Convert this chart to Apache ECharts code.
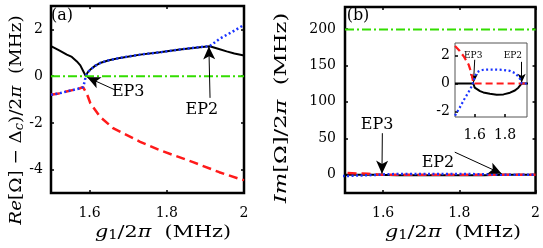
<!DOCTYPE html>
<html>
<head>
<meta charset="utf-8">
<script src="https://cdn.jsdelivr.net/npm/echarts@6/dist/echarts.min.js"></script>
<style>html,body{margin:0;padding:0;background:#fff}#c{width:543px;height:248px}</style>
</head>
<body>
<div id="c"></div>
<script>
// ---------- data (panel a: real parts) ----------
const reBlackX = [1.5, 1.52, 1.541, 1.554, 1.567, 1.576, 1.584, 1.59, 1.595, 1.602, 1.615, 1.627, 1.65, 1.679, 1.731, 1.782, 1.834, 1.886, 1.911, 1.935, 1.955, 1.975, 2.0];
const reBlack  = [1.28, 1.11, 0.92, 0.82, 0.63, 0.46, 0.2, 0.0, 0.16, 0.28, 0.45, 0.56, 0.68, 0.78, 0.92, 1.02, 1.14, 1.24, 1.28, 1.16, 1.06, 0.97, 0.88];
const reBlueX  = [1.5, 1.52, 1.54, 1.56, 1.575, 1.583, 1.587, 1.59, 1.595, 1.602, 1.615, 1.627, 1.65, 1.679, 1.731, 1.782, 1.834, 1.886, 1.911, 1.937, 1.97, 2.0];
const reBlue   = [-0.8, -0.74, -0.66, -0.58, -0.52, -0.47, -0.25, 0.0, 0.16, 0.28, 0.45, 0.56, 0.68, 0.78, 0.92, 1.02, 1.14, 1.24, 1.28, 1.6, 1.9, 2.19];
const reRedX   = [1.5, 1.52, 1.54, 1.56, 1.575, 1.583, 1.593, 1.602, 1.627, 1.662, 1.731, 1.782, 1.868, 1.936, 1.987, 2.0];
const reRed    = [-0.8, -0.74, -0.66, -0.58, -0.52, -0.47, -0.76, -1.16, -1.74, -2.24, -2.81, -3.17, -3.68, -4.11, -4.39, -4.45];
const reGreenX = [1.5, 2.0];
const reGreen  = [0, 0];

// ---------- data (panel b + inset: imaginary parts) ----------
const imX     = [1.47, 1.5, 1.53, 1.56, 1.575, 1.585, 1.591, 1.6, 1.613, 1.635, 1.657, 1.7, 1.745, 1.79, 1.833, 1.865, 1.888, 1.9, 1.91, 1.945, 2.0];
const imBlack = [0, 0, 0, 0, 0, 0, 0, -0.3, -0.42, -0.55, -0.64, -0.74, -0.8, -0.78, -0.66, -0.5, -0.3, -0.17, 0, 0, 0];
const imRed   = [2.69, 2.35, 1.9, 1.35, 0.85, 0.4, 0, 0, 0, 0, 0, 0, 0, 0, 0, 0, 0, 0, 0, 0, 0];
const imBlue  = [-2.3, -1.75, -1.15, -0.6, -0.3, -0.1, 0, 0.45, 0.79, 0.92, 0.98, 1.0, 1.0, 0.97, 0.9, 0.75, 0.5, 0.3, 0, 0, 0];
const imGreenX = [1.5, 2.0];
const imGreen  = [199, 199];

// ---------- ticks ----------
const xTicks = [1.6, 1.8, 2];
const yTicksA = [-4, -2, 0, 2];
const yTicksB = [0, 50, 100, 150, 200];
const insetXTicks = [1.6, 1.8];
const insetYTicks = [-2, 0, 2];

// ---------- annotations (data coords) ----------
const annA = [
  {text: 'EP3', textAt: [1.70, -0.67], from: [1.666, -0.59], to: [1.594, -0.05]},
  {text: 'EP2', textAt: [1.891, -1.45], from: [1.912, -0.93], to: [1.909, 1.27]}
];
const annB = [
  {text: 'EP3', textAt: [1.584, 68], from: [1.598, 57], to: [1.597, 1.5]},
  {text: 'EP2', textAt: [1.744, 16], from: [1.788, 31], to: [1.911, 1.5]}
];
const annInset = [
  {text: 'EP3', textAt: [1.59, 2.0], from: [1.6, 1.7], to: [1.592, 0.05]},
  {text: 'EP2', textAt: [1.852, 2.0], from: [1.91, 1.55], to: [1.91, 0.05]}
];

const zip = (xs, ys) => xs.map((x, i) => [x, ys[i]]);
const FONT = 'DejaVu Serif';
const BLACK = '#000', RED = '#ff1a1a', BLUE = '#1a33ff', GREEN = '#33dd00';

function lineS(name, data, xi, yi, color, type, width, extra) {
  return Object.assign({
    type: 'line', name, data, xAxisIndex: xi, yAxisIndex: yi,
    showSymbol: false, symbol: 'none', smooth: false, clip: true, silent: true,
    lineStyle: {color, type, width}, z: 3, animation: false
  }, extra || {});
}

function annSeries(anns, xi, yi, fs, head) {
  return {
    type: 'line', data: [], xAxisIndex: xi, yAxisIndex: yi, silent: true, animation: false, z: 10,
    markLine: {
      silent: true, animation: false, symbol: ['none', 'arrow'], symbolSize: head,
      lineStyle: {color: '#000', width: 1, type: 'solid'}, label: {show: false},
      data: anns.map(a => [{coord: a.from}, {coord: a.to}])
    },
    markPoint: {
      silent: true, animation: false, symbol: 'circle', symbolSize: 0,
      label: {show: true, position: 'inside', color: '#000', fontFamily: FONT, fontSize: fs,
               formatter: p => p.name},
      data: anns.map(a => ({name: a.text, coord: a.textAt}))
    }
  };
}

function xAx(gi, min, max, ticks, showLabels, pos, margin, fs) {
  return {
    type: 'value', gridIndex: gi, min, max, position: pos,
    axisLine: {show: false, onZero: false}, splitLine: {show: false},
    axisTick: {show: true, inside: true, length: 3, lineStyle: {color: '#000', width: 1.5}, customValues: ticks},
    axisLabel: {show: showLabels, customValues: ticks, color: '#000', fontFamily: FONT, fontSize: fs || 14, margin: margin || 12,
                formatter: v => String(v)}
  };
}
function yAx(gi, min, max, ticks, showLabels, pos, margin, fs) {
  return {
    type: 'value', gridIndex: gi, min, max, position: pos,
    axisLine: {show: false, onZero: false}, splitLine: {show: false},
    axisTick: {show: true, inside: true, length: 3, lineStyle: {color: '#000', width: 1.5}, customValues: ticks},
    axisLabel: {show: showLabels, customValues: ticks, color: '#000', fontFamily: FONT, fontSize: fs || 14, margin: margin || 8,
                formatter: v => String(v)}
  };
}

const FS = 17;
const richMath = {
  i: {fontFamily: FONT, fontStyle: 'italic', fontSize: FS, fill: '#000'},
  n: {fontFamily: FONT, fontSize: FS, fill: '#000'},
  s: {fontFamily: FONT, fontStyle: 'italic', fontSize: 12, fill: '#000', verticalAlign: 'bottom'},
  u: {fontFamily: FONT, fontSize: 12, fill: '#000', verticalAlign: 'bottom'}
};
function textEl(x, y, text, rot, sx) {
  return {type: 'text', x, y, rotation: rot || 0, scaleX: sx || 1, silent: true,
          style: {text, rich: richMath, font: FS + 'px ' + FONT, fill: '#000', align: 'center', verticalAlign: 'middle'}};
}
function plainEl(x, y, text) {
  return {type: 'text', x, y, silent: true,
          style: {text, font: '16px ' + FONT, fill: '#000', align: 'center', verticalAlign: 'middle'}};
}

const chart = echarts.init(document.getElementById('c'), null, {renderer: 'canvas'});
const option = {
  animation: false,
  backgroundColor: '#fff',
  grid: [
    {left: 51, top: 6, width: 193, height: 187, show: true, borderColor: '#000', borderWidth: 2.5, backgroundColor: 'transparent'},
    {left: 345, top: 7, width: 191, height: 186, show: true, borderColor: '#000', borderWidth: 2.5, backgroundColor: 'transparent'},
    {left: 455, top: 43, width: 72, height: 74, show: true, borderColor: '#555', borderWidth: 1, backgroundColor: '#fff', z: 5}
  ],
  xAxis: [
    xAx(0, 1.5, 2, xTicks, true, 'bottom', 13),
    xAx(0, 1.5, 2, xTicks, false, 'top'),
    xAx(1, 1.5, 2, xTicks, true, 'bottom', 13),
    xAx(1, 1.5, 2, xTicks, false, 'top'),
    Object.assign(xAx(2, 1.47, 1.945, insetXTicks, true, 'bottom', 11), {z: 6})
  ],
  yAxis: [
    yAx(0, -5, 3, yTicksA, true, 'left', 8),
    yAx(0, -5, 3, yTicksA, false, 'right'),
    yAx(1, -25, 230, yTicksB, true, 'left', 9),
    yAx(1, -25, 230, yTicksB, false, 'right'),
    Object.assign(yAx(2, -2.4, 2.9, insetYTicks, true, 'left', 5), {z: 6})
  ],
  series: [
    // panel (a)
    lineS('reBlack', zip(reBlackX, reBlack), 0, 0, BLACK, 'solid', 2),
    lineS('reRed', zip(reRedX, reRed), 0, 0, RED, [9, 5], 2.5),
    lineS('reBlue', zip(reBlueX, reBlue), 0, 0, BLUE, [2, 2.5], 2.5),
    lineS('reGreen', zip(reGreenX, reGreen), 0, 0, GREEN, [9, 3, 2, 3], 2),
    annSeries(annA, 0, 0, 16, [9, 13]),
    // panel (b)
    lineS('imBlack', zip(imX, imBlack), 2, 2, BLACK, 'solid', 2),
    lineS('imRed', zip(imX, imRed), 2, 2, RED, [9, 5], 2.5),
    lineS('imBlue', zip(imX, imBlue), 2, 2, BLUE, [2, 2.5], 2.5),
    lineS('imGreen', zip(imGreenX, imGreen), 2, 2, GREEN, [9, 3, 2, 3], 2),
    annSeries(annB, 2, 2, 16, [9, 13]),
    // inset
    lineS('insBlack', zip(imX, imBlack), 4, 4, BLACK, 'solid', 2, {z: 7}),
    lineS('insRed', zip(imX, imRed), 4, 4, RED, [7, 4], 2.2, {z: 7}),
    lineS('insBlue', zip(imX, imBlue), 4, 4, BLUE, [2, 2.5], 2.2, {z: 7}),
    Object.assign(annSeries(annInset, 4, 4, 9, [6, 9]), {z: 8})
  ],
  graphic: [
    plainEl(62, 16, '(a)'),
    plainEl(358, 16, '(b)'),
    textEl(17, 120, '{i|Re}{n|[Ω] − Δ}{s|c}{n|)/2}{i|π}{n|  (MHz)}', -Math.PI / 2 * -1, 1.08),
    textEl(282, 108, '{i|Im}{n|[Ω]/2}{i|π}{n|  (MHz)}', Math.PI / 2, 1.33),
    textEl(163, 233, '{i|g}{u|1}{n|/2}{i|π}{n|  (MHz)}', 0, 1.22),
    textEl(453, 233, '{i|g}{u|1}{n|/2}{i|π}{n|  (MHz)}', 0, 1.22)
  ]
};
chart.setOption(option);
</script>
</body>
</html>
